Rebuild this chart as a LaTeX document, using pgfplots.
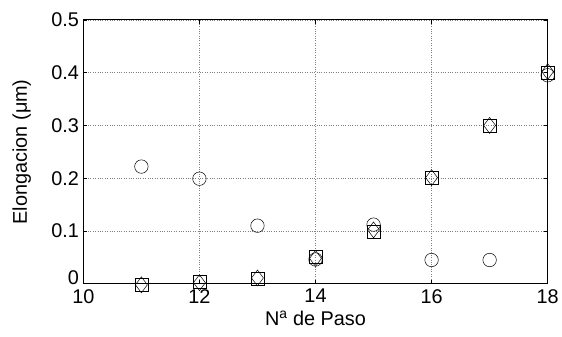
\documentclass[border=0pt]{standalone}
\usepackage{pgfplots}
\pgfplotsset{compat=1.18}
\usepackage{fontspec}
\setmainfont{Liberation Sans}
\begin{document}
\begin{tikzpicture}
\begin{axis}[
  at={(0,0)}, anchor=south west,
  scale only axis, width=468pt, height=266pt,
  xmin=10, xmax=18, ymin=0, ymax=0.5,
  xtick={10,12,14,16,18},
  ytick={0,0.1,0.2,0.3,0.4,0.5},
  yticklabels={\raisebox{12pt}{0},0.1,0.2,0.3,0.4,0.5},
  /pgf/number format/assume math mode=true,
  tick label style={font=\fontsize{20}{24}\selectfont},
  label style={font=\fontsize{20}{24}\selectfont},
  tick align=inside, major tick length=4pt,
  tick style={black, line width=0.6pt},
  xtick pos=both, ytick pos=both,
  grid=major,
  major grid style={dotted, gray, line width=0.6pt},
  axis line style={black, line width=1.1pt},
  xlabel={N\textsuperscript{a} de Paso},
  ylabel={Elongacion (μm)},
  xlabel style={at={([yshift=-35pt]axis description cs:0.5,0)}, anchor=center},
  ylabel style={at={([xshift=-62pt]axis description cs:0,0.5)}, anchor=center},
  yticklabel style={xshift=-1pt},
  xticklabel style={yshift=-2pt},
  clip=false,
]
\addplot[only marks, mark=o, mark size=6.8pt, black, line width=0.5pt] coordinates {
(11,0.222) (12,0.199) (13,0.110) (14,0.046) (15,0.112) (16,0.045) (17,0.045) (18,0.395)};
\addplot[only marks, mark=square, mark size=6.5pt, black, line width=0.5pt] coordinates {
(11,-0.002) (12,0.004) (13,0.010) (14,0.051) (15,0.099) (16,0.200) (17,0.300) (18,0.400)};
\addplot[only marks, mark=diamond, mark size=8pt, black, line width=0.5pt] coordinates {
(11,-0.002) (12,0.002) (13,0.011) (14,0.048) (15,0.102) (16,0.201) (17,0.300) (18,0.402)};
\end{axis}
\useasboundingbox (-84pt,-53pt) rectangle (478pt,286pt);
\end{tikzpicture}
\end{document}
